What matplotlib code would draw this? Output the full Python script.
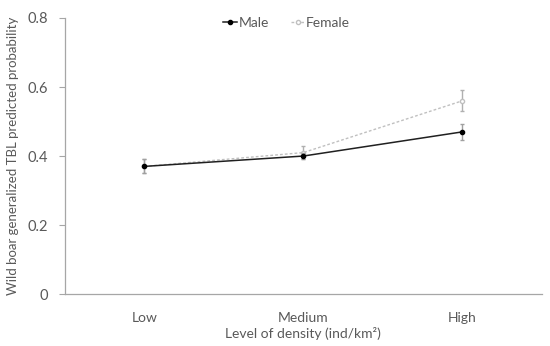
import numpy as np
import matplotlib
matplotlib.use("Agg")
import matplotlib.pyplot as plt
from matplotlib.lines import Line2D

plt.rcParams['font.family'] = ['Lato', 'DejaVu Sans']

# Podatki
kategorije = ["Low", "Medium", "High"]
male = [0.37, 0.40, 0.47]
male_err = [0.02, 0.01, 0.024]
female = [0.37, 0.41, 0.56]
female_err = [0.02, 0.02, 0.03]
yticks = [0, 0.2, 0.4, 0.6, 0.8]
ytick_labels = ["0", "0.2", "0.4", "0.6", "0.8"]

siva = "#595959"
x = np.arange(1, len(kategorije) + 1)

fig = plt.figure(figsize=(5.5, 3.46), dpi=100)
ax = fig.add_axes([0.118, 0.150, 0.867, 0.798])

ax.errorbar(x, female, yerr=female_err, color="#c0c0c0", ls=(0, (2, 1.5)), lw=1,
            marker="o", ms=3, mfc="white", mec="#c0c0c0", ecolor="#b0b0b0",
            elinewidth=1, capsize=1.5, zorder=2)
ax.errorbar(x, male, yerr=male_err, color="#202020", lw=1.1,
            marker="o", ms=3, mfc="black", mec="black", ecolor="#a0a0a0",
            elinewidth=1, capsize=1.5, zorder=3)

ax.set_xlim(0.5, 3.5)
ax.set_ylim(0, 0.8)
ax.set_xticks(x)
ax.set_xticklabels(kategorije)
ax.set_yticks(yticks)
ax.set_yticklabels(ytick_labels)
ax.tick_params(axis="x", length=0, pad=13, labelsize=10, colors=siva)
ax.tick_params(axis="y", length=4, width=0.8, direction="out", pad=8, labelsize=10.5, colors=siva)
ax.tick_params(axis="y", color="#a6a6a6")

for s in ["top", "right"]:
    ax.spines[s].set_visible(False)
for s in ["left", "bottom"]:
    ax.spines[s].set_color("#a6a6a6")
    ax.spines[s].set_linewidth(0.9)

ax.set_xlabel("Level of density (ind/km²)", fontsize=10, color=siva, labelpad=2)
ax.set_ylabel("Wild boar generalized TBL predicted probability", fontsize=9.5, color=siva, labelpad=6)

handles = [
    Line2D([], [], color="#202020", lw=1.1, marker="o", ms=3, mfc="black", mec="black"),
    Line2D([], [], color="#c0c0c0", lw=1, ls=(0, (2, 1.5)), marker="o", ms=3,
           mfc="white", mec="#c0c0c0"),
]
leg = ax.legend(handles, ["Male", "Female"], loc="upper center", bbox_to_anchor=(0.465, 1.05),
                ncol=2, frameon=False, fontsize=10, handlelength=1.0, handletextpad=0.1,
                columnspacing=1.6)
for t in leg.get_texts():
    t.set_color(siva)

fig.savefig("out.png", dpi=100)
